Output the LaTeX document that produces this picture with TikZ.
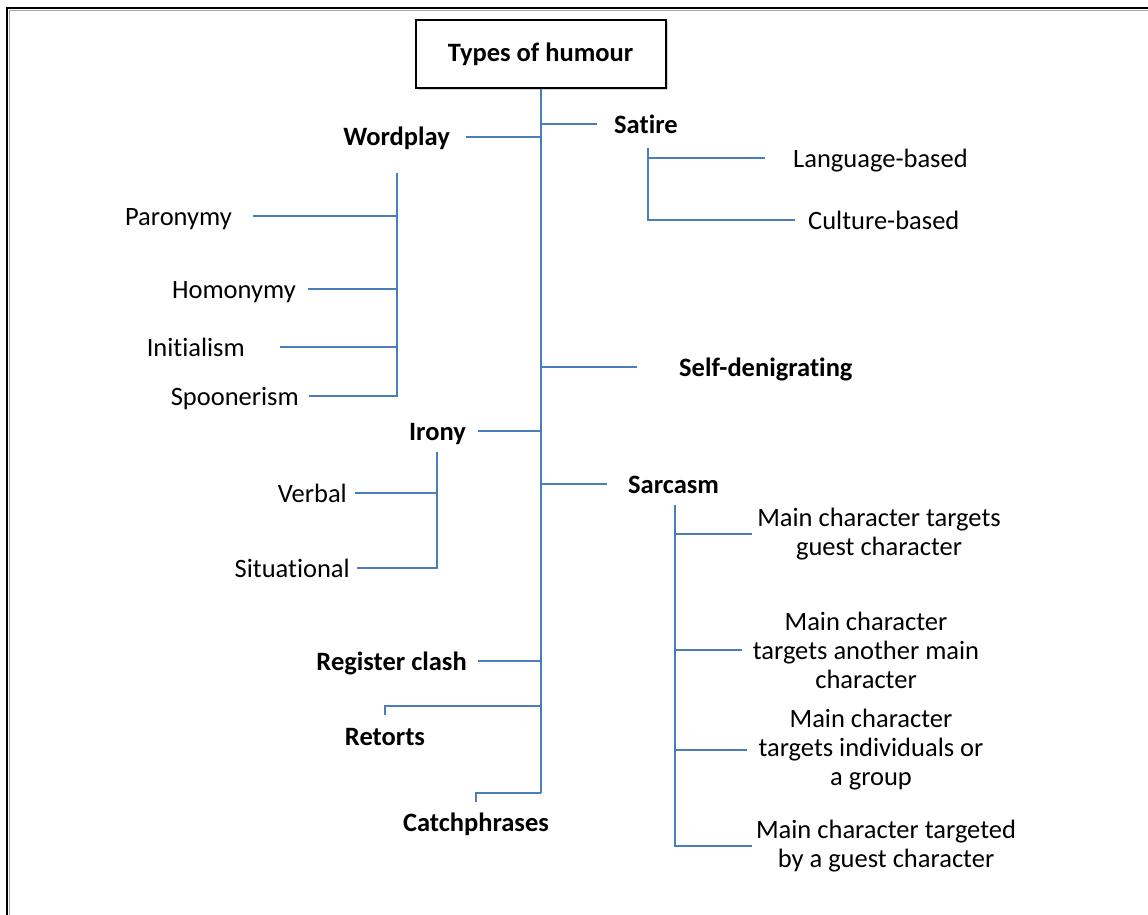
\documentclass[tikz,border=0pt]{standalone}
\usepackage{fontspec}
\setmainfont{Carlito}[Ligatures=NoCommon]
\usetikzlibrary{shadows}
\definecolor{branch}{HTML}{4A7EBB}
\tikzset{
  ln/.style={draw=branch, line width=2pt},
  lbl/.style={inner sep=0pt, font=\fontsize{26.5}{29}\selectfont, text height=20pt, text depth=2pt},
  hd/.style={lbl, font=\fontsize{26.5}{29}\selectfont\bfseries},
  blk/.style={inner sep=0pt, align=center, font=\fontsize{26.5}{29}\selectfont},
  titlebox/.style={draw=black, line width=2pt, fill=white, minimum width=250pt, minimum height=68pt,
    font=\fontsize{26.5}{29}\selectfont\bfseries,
    drop shadow={shadow xshift=2.5pt, shadow yshift=-2.5pt, opacity=0.35}},
}
\begin{document}
\begin{tikzpicture}[x=1pt, y=-1pt]
\useasboundingbox (0,0) rectangle (1148,915);

% frame (top and left edges)
\draw[black!35, line width=1.5pt] (9.5,915) -- (9.5,10.5) -- (1148,10.5);
\draw[black, line width=2pt] (7,915) -- (7,8) -- (1148,8);

% root
\node[titlebox] (title) at (540.5,54) {Types of humour};

% main categories
\node[hd, anchor=east] (wp) at (450,137) {Wordplay};
\node[hd, anchor=west] (sat) at (614,124) {Satire};
\node[hd, anchor=west] (self) at (679,367) {Self-denigrating};
\node[hd, anchor=east] (iro) at (466,431) {Irony};
\node[hd, anchor=west] (sar) at (628,484) {Sarcasm};
\node[hd, anchor=east] (reg) at (467,661) {Register clash};
\node[hd] (ret) at (385,736) {Retorts};
\node[hd] (cat) at (476,822) {Catchphrases};

% satire
\node[lbl, anchor=west] (lang) at (793,158) {Language-based};
\node[lbl, anchor=west] (cul) at (808,220) {Culture-based};

% wordplay
\node[lbl, anchor=east] (par) at (232,216) {Paronymy};
\node[lbl, anchor=east] (hom) at (296,289) {Homonymy};
\node[lbl, anchor=east] (ini) at (245,347) {Initialism};
\node[lbl, anchor=east] (spo) at (299,396) {Spoonerism};

% irony
\node[lbl, anchor=east] (verb) at (347,493) {Verbal};
\node[lbl, anchor=east] (sit) at (350,568) {Situational};

% sarcasm
\node[blk] (sa) at (879,534) {Main character targets\\guest character};
\node[blk] (sb) at (866,650) {Main character\\targets another main\\character};
\node[blk] (sc) at (871,750) {Main character\\targets individuals or\\a group};
\node[blk] (sd) at (886,846) {Main character targeted\\by a guest character};

% junctions
\coordinate (tb) at (540.5,793);
\coordinate (rj) at (540.5,706);
\coordinate (satv) at (648,148);
\coordinate (wpv) at (397,173);
\coordinate (irv) at (437,452);
\coordinate (sarv) at (675,505);

% trunk and its branches
\draw[ln] (title.south) -- (tb);
\draw[ln] ([xshift=16pt]wp.east) -- (wp.east -| tb);
\draw[ln] (sat.west -| tb) -- ([xshift=-17pt]sat.west);
\draw[ln] (self.west -| tb) -- ([xshift=-42pt]self.west);
\draw[ln] ([xshift=12pt]iro.east) -- (iro.east -| tb);
\draw[ln] (sar.west -| tb) -- ([xshift=-21pt]sar.west);
\draw[ln] ([xshift=11pt]reg.east) -- (reg.east -| tb);
\draw[ln] (rj) -| ([yshift=10pt]ret.north);
\draw[ln] (tb) -| ([yshift=9pt]cat.north);

% satire sub-branches
\draw[ln] (satv) |- ([xshift=-13pt]cul.west);
\draw[ln] (lang.west -| satv) -- ([xshift=-28pt]lang.west);

% wordplay sub-branches
\draw[ln] (wpv) |- ([xshift=10pt]spo.east);
\draw[ln] ([xshift=21pt]par.east) -- (par.east -| wpv);
\draw[ln] ([xshift=12pt]hom.east) -- (hom.east -| wpv);
\draw[ln] ([xshift=35pt]ini.east) -- (ini.east -| wpv);

% irony sub-branches
\draw[ln] (irv) |- ([xshift=7pt]sit.east);
\draw[ln] ([xshift=8pt]verb.east) -- (verb.east -| irv);

% sarcasm sub-branches
\draw[ln] (sarv) |- ([xshift=-4pt]sd.west);
\draw[ln] (sa.west -| sarv) -- ([xshift=-5pt]sa.west);
\draw[ln] (sb.west -| sarv) -- ([xshift=-11pt]sb.west);
\draw[ln] (sc.west -| sarv) -- ([xshift=-11pt]sc.west);
\end{tikzpicture}
\end{document}
